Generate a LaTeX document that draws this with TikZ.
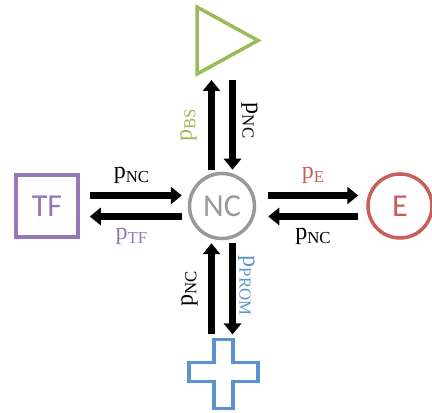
\documentclass[tikz,border=0pt]{standalone}
\usepackage{fontspec}
\setmainfont{Liberation Serif}
\newfontfamily\carlito{Carlito}
\usepackage{tikz}
\usetikzlibrary{calc}
\usetikzlibrary{arrows.meta}

\definecolor{ncgray}{HTML}{999999}
\definecolor{tfpurple}{HTML}{9678B6}
\definecolor{ered}{HTML}{C95E58}
\definecolor{bsgreen}{HTML}{9BBB59}
\definecolor{promblue}{HTML}{5B93CF}

\tikzset{
    flow/.style={line width=7pt,-{Triangle[length=11pt,width=17pt]}},
    prob/.style={font=\fontsize{24}{28}\selectfont,inner sep=0,outer sep=0},
    species/.style={line width=3.5pt,font=\carlito\fontsize{32}{38}\selectfont,inner sep=0},
}

\begin{document}
\begin{tikzpicture}[x=1pt,y=1pt]
    \useasboundingbox (0,0) rectangle (432,413);

    \node(nc)[species,circle,draw=ncgray,text=ncgray,minimum size=65pt] at (222,207) {NC};
    \node(tf)[species,rectangle,draw=tfpurple,text=tfpurple,minimum size=62pt] at (47,207) {TF};
    \node(e)[species,circle,draw=ered,text=ered,minimum size=64pt] at (400,207) {E};
    \node(bs)[minimum width=61pt,minimum height=67pt,inner sep=0,outer sep=0] at (227.5,372.5) {};
    \node(prom)[minimum size=69pt,inner sep=0,outer sep=0] at (223.5,39) {};

    % binding site triangle and promoter cross
    \draw[bsgreen,line width=3.5pt] (bs.north west) -- (bs.east) -- (bs.south west) -- cycle;
    \draw[promblue,line width=3.5pt] ([xshift=-9.5pt]prom.north) -- ++(19,0) -- ++(0,-23) -- ++(25,0) -- ++(0,-19)
        -- ++(-25,0) -- ++(0,-27) -- ++(-19,0) -- ++(0,27) -- ++(-25,0) -- ++(0,19) -- ++(25,0) -- cycle;

    % NC <-> BS
    \draw[flow] ($(nc.north)+(-10.5,2)$) -- node[prob,midway,xshift=-23pt,rotate=90,text=bsgreen]{$\mathrm{p}_{\mathrm{BS}}$} ($(nc.north |- bs.south)+(-10.5,-6)$);
    \draw[flow] ($(nc.north |- bs.south)+(10.5,-6)$) -- node[prob,midway,xshift=17pt,yshift=4pt,rotate=-90]{$\mathrm{p}_{\mathrm{NC}}$} ($(nc.north)+(10.5,2)$);
    % TF <-> NC
    \draw[flow] ($(tf.east)+(10,10.5)$) -- node[prob,midway,xshift=-4pt,yshift=20pt]{$\mathrm{p}_{\mathrm{NC}}$} ($(nc.west |- tf.east)+(-6,10.5)$);
    \draw[flow] ($(nc.west |- tf.east)+(-6,-10.5)$) -- node[prob,midway,xshift=-4pt,yshift=-20pt,text=tfpurple]{$\mathrm{p}_{\mathrm{TF}}$} ($(tf.east)+(10,-10.5)$);
    % NC <-> E
    \draw[flow] ($(nc.east)+(12,10.5)$) -- node[prob,midway,yshift=20pt,text=ered]{$\mathrm{p}_{\mathrm{E}}$} ($(e.west |- nc.east)+(-8,10.5)$);
    \draw[flow] ($(e.west |- nc.east)+(-8,-10.5)$) -- node[prob,midway,yshift=-20pt]{$\mathrm{p}_{\mathrm{NC}}$} ($(nc.east)+(12,-10.5)$);
    % PROM <-> NC
    \draw[flow] ($(nc.south |- prom.north)+(-10.5,5)$) -- node[prob,midway,xshift=-22pt,rotate=90]{$\mathrm{p}_{\mathrm{NC}}$} ($(nc.south)+(-10.5,-3)$);
    \draw[flow] ($(nc.south)+(10.5,-3)$) -- node[prob,midway,xshift=14pt,yshift=3pt,rotate=-90,text=promblue]{$\mathrm{p}_{\mathrm{PROM}}$} ($(nc.south |- prom.north)+(10.5,5)$);
\end{tikzpicture}
\end{document}
